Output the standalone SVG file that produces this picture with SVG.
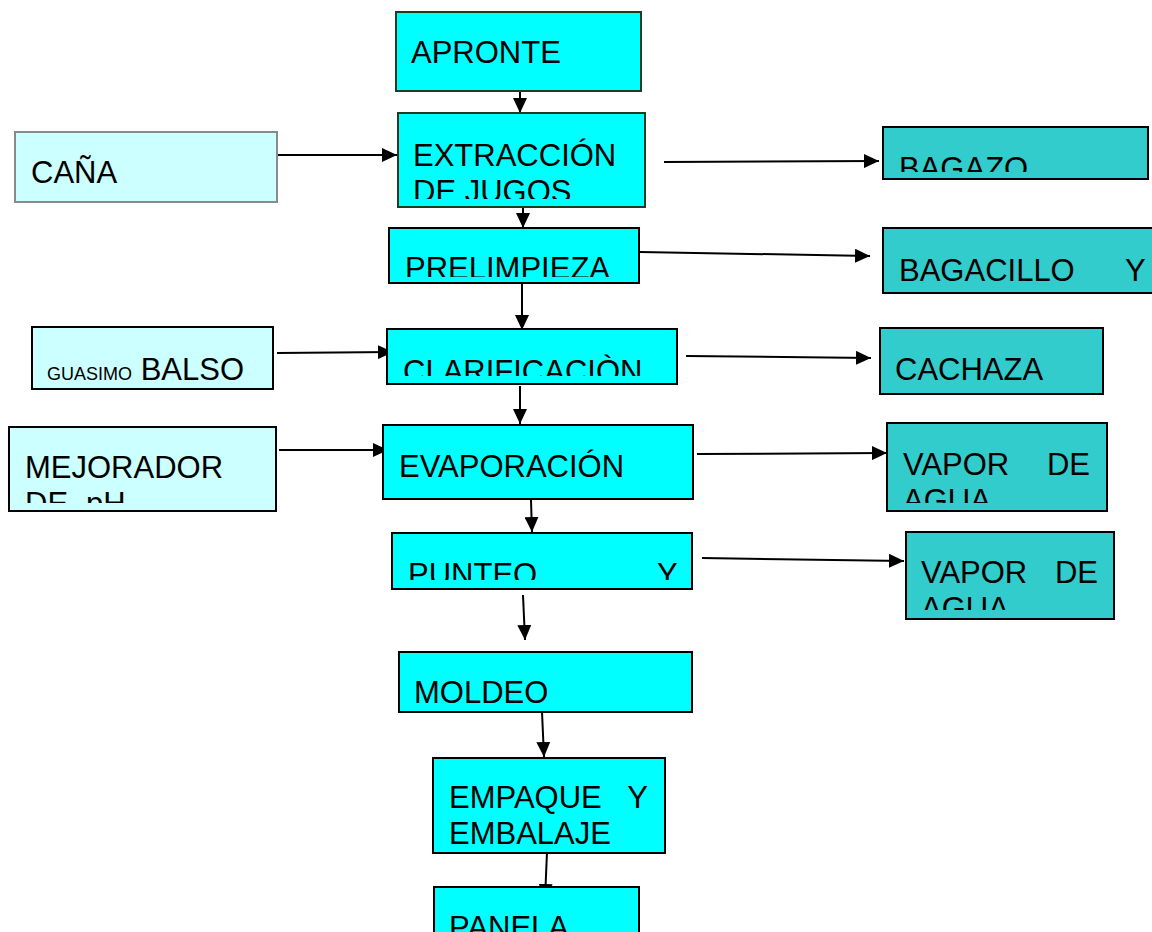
<svg xmlns="http://www.w3.org/2000/svg" width="1152" height="932" viewBox="0 0 1152 932">
  <style>
    .t { font-family: "Liberation Sans", Arial, sans-serif; font-size: 31px; fill: #000; }
    .s { font-size: 18px; }
    .proc { fill: #00ffff; stroke: #000; stroke-width: 2; }
    .procg { fill: #00ffff; stroke: #1e3d1e; stroke-width: 2; }
    .inp { fill: #ccffff; stroke: #000; stroke-width: 2; }
    .inpg { fill: #ccffff; stroke: #8a8a8a; stroke-width: 2; }
    .out { fill: #33cccc; stroke: #000; stroke-width: 2; }
    .edge { stroke: #000; stroke-width: 2; fill: none; marker-end: url(#arrow); }
  </style>
  <defs>
    <marker id="arrow" markerUnits="userSpaceOnUse" markerWidth="16" markerHeight="14" refX="15" refY="7" orient="auto">
      <path d="M0,0 L15,7 L0,14 z" fill="#000"/>
    </marker>
    <clipPath id="c-extr" clipPathUnits="userSpaceOnUse"><rect x="398" y="113" width="247" height="86"/></clipPath>
    <clipPath id="c-prel" clipPathUnits="userSpaceOnUse"><rect x="389" y="228" width="250" height="49"/></clipPath>
    <clipPath id="c-clar" clipPathUnits="userSpaceOnUse"><rect x="387" y="329" width="290" height="47"/></clipPath>
    <clipPath id="c-punt" clipPathUnits="userSpaceOnUse"><rect x="392" y="533" width="300" height="47"/></clipPath>
    <clipPath id="c-baga" clipPathUnits="userSpaceOnUse"><rect x="883" y="127" width="265" height="45"/></clipPath>
    <clipPath id="c-vap1" clipPathUnits="userSpaceOnUse"><rect x="887" y="423" width="220" height="80"/></clipPath>
    <clipPath id="c-vap2" clipPathUnits="userSpaceOnUse"><rect x="906" y="532" width="208" height="78"/></clipPath>
    <clipPath id="c-mejo" clipPathUnits="userSpaceOnUse"><rect x="9" y="427" width="267" height="76"/></clipPath>
  </defs>

  <!-- connectors (drawn first so the PANELA box sits over its arrowhead) -->
  <g id="connectors">
    <line class="edge" x1="520" y1="91" x2="520" y2="113"/>
    <line class="edge" x1="523" y1="207" x2="523" y2="228"/>
    <line class="edge" x1="522" y1="283" x2="522" y2="330"/>
    <line class="edge" x1="520" y1="386" x2="520" y2="424"/>
    <line class="edge" x1="531" y1="500" x2="532" y2="532"/>
    <line class="edge" x1="523" y1="595" x2="525" y2="640"/>
    <line class="edge" x1="542" y1="712" x2="544" y2="757"/>
    <line class="edge" x1="547" y1="852" x2="545" y2="899"/>
    <line class="edge" x1="277" y1="155" x2="397" y2="155"/>
    <line class="edge" x1="277" y1="353" x2="393" y2="352"/>
    <line class="edge" x1="279" y1="450" x2="388" y2="450"/>
    <line class="edge" x1="664" y1="162" x2="879" y2="161"/>
    <line class="edge" x1="640" y1="252" x2="870" y2="256"/>
    <line class="edge" x1="686" y1="356" x2="871" y2="358"/>
    <line class="edge" x1="697" y1="454" x2="887" y2="453"/>
    <line class="edge" x1="702" y1="558" x2="904" y2="561"/>
  </g>

  <!-- main process column -->
  <g id="apronte">
    <rect class="procg" x="396" y="12" width="245" height="79"/>
    <text class="t" x="411" y="63">APRONTE</text>
  </g>
  <g id="extraccion">
    <rect class="procg" x="398" y="113" width="247" height="94"/>
    <g clip-path="url(#c-extr)">
      <text class="t" x="413" y="166">EXTRACCIÓN</text>
      <text class="t" x="413" y="202">DE JUGOS</text>
    </g>
  </g>
  <g id="prelimpieza">
    <rect class="proc" x="389" y="228" width="250" height="55"/>
    <g clip-path="url(#c-prel)">
      <text class="t" x="405" y="279">PRELIMPIEZA</text>
    </g>
  </g>
  <g id="clarificacion">
    <rect class="proc" x="387" y="329" width="290" height="55"/>
    <g clip-path="url(#c-clar)">
      <text class="t" x="403" y="382">CLARIFICACIÒN</text>
    </g>
  </g>
  <g id="evaporacion">
    <rect class="proc" x="383" y="425" width="310" height="74"/>
    <text class="t" x="399" y="477">EVAPORACIÓN</text>
  </g>
  <g id="punteo">
    <rect class="proc" x="392" y="533" width="300" height="56"/>
    <g clip-path="url(#c-punt)">
      <text class="t" x="408" y="585">PUNTEO</text>
      <text class="t" x="657" y="585">Y</text>
    </g>
  </g>
  <g id="moldeo">
    <rect class="proc" x="399" y="652" width="293" height="60"/>
    <text class="t" x="414" y="703">MOLDEO</text>
  </g>
  <g id="empaque">
    <rect class="proc" x="433" y="758" width="232" height="95"/>
    <text class="t" x="449" y="808">EMPAQUE</text>
    <text class="t" x="648" y="808" text-anchor="end">Y</text>
    <text class="t" x="449" y="844">EMBALAJE</text>
  </g>
  <g id="panela">
    <rect class="proc" x="434" y="887" width="205" height="60"/>
    <text class="t" x="449" y="938">PANELA</text>
  </g>

  <!-- inputs -->
  <g id="cana">
    <rect class="inpg" x="15" y="132" width="262" height="70"/>
    <text class="t" x="31" y="183">CAÑA</text>
  </g>
  <g id="guasimo-balso">
    <rect class="inp" x="32" y="327" width="241" height="62"/>
    <text class="t" x="47" y="380"><tspan class="s">GUASIMO</tspan> BALSO</text>
  </g>
  <g id="mejorador">
    <rect class="inp" x="9" y="427" width="267" height="84"/>
    <g clip-path="url(#c-mejo)">
      <text class="t" x="25" y="478">MEJORADOR</text>
      <text class="t" x="25" y="514">DE</text>
      <text class="t" x="86" y="514">pH</text>
    </g>
  </g>

  <!-- by-products -->
  <g id="bagazo">
    <rect class="out" x="883" y="127" width="265" height="52"/>
    <g clip-path="url(#c-baga)">
      <text class="t" x="899" y="179">BAGAZO</text>
    </g>
  </g>
  <g id="bagacillo">
    <rect class="out" x="883" y="228" width="270" height="65"/>
    <text class="t" x="899" y="281">BAGACILLO</text>
    <text class="t" x="1125" y="281">Y</text>
  </g>
  <g id="cachaza">
    <rect class="out" x="880" y="328" width="223" height="66"/>
    <text class="t" x="895" y="380">CACHAZA</text>
  </g>
  <g id="vapor-1">
    <rect class="out" x="887" y="423" width="220" height="88"/>
    <g clip-path="url(#c-vap1)">
      <text class="t" x="903" y="475">VAPOR</text>
      <text class="t" x="1090" y="475" text-anchor="end">DE</text>
      <text class="t" x="903" y="511">AGUA</text>
    </g>
  </g>
  <g id="vapor-2">
    <rect class="out" x="906" y="532" width="208" height="87"/>
    <g clip-path="url(#c-vap2)">
      <text class="t" x="921" y="583">VAPOR</text>
      <text class="t" x="1098" y="583" text-anchor="end">DE</text>
      <text class="t" x="921" y="619">AGUA</text>
    </g>
  </g>
</svg>
